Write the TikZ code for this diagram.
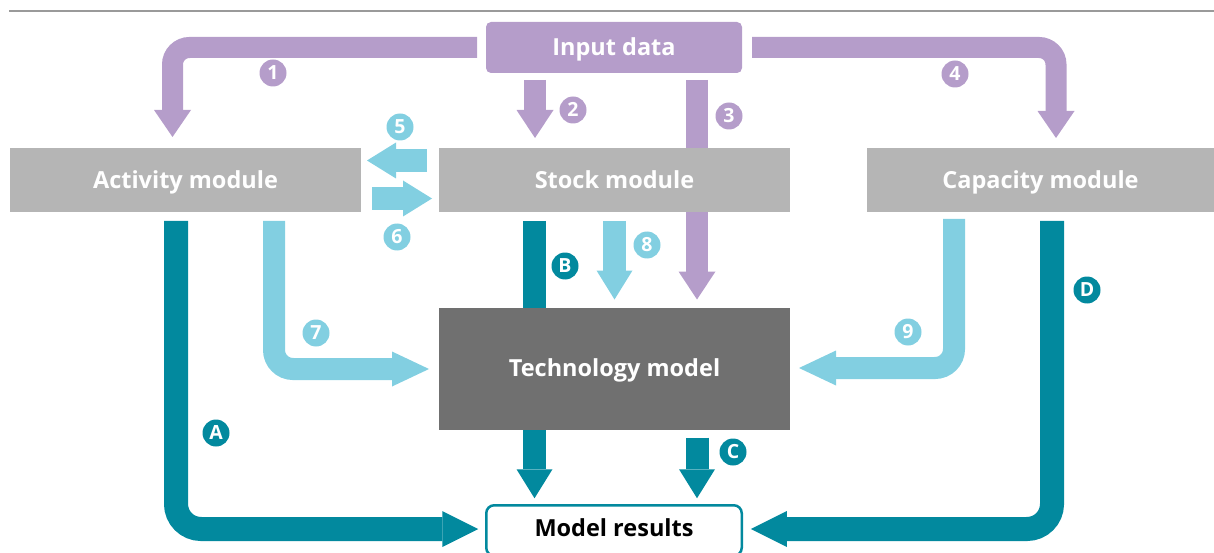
\documentclass[tikz,border=0pt]{standalone}
\usepackage{fontspec}
\setmainfont{Open Sans}
\usetikzlibrary{arrows.meta,calc}
\definecolor{cPur}{HTML}{B59DCA}
\definecolor{cLb}{HTML}{82CFE1}
\definecolor{cTeal}{HTML}{02899E}
\definecolor{cMod}{HTML}{B5B5B5}
\definecolor{cTech}{HTML}{707070}
\definecolor{cRule}{HTML}{9A9A9A}
\pgfdeclarelayer{bg}
\pgfsetlayers{bg,main}
\tikzset{
  lbl/.style={text=white, font=\fontsize{23.5}{27}\selectfont\bfseries, inner sep=0pt, outer sep=0pt, text height=16.8pt, text depth=0pt},
  module/.style={lbl, fill=cMod, minimum width=351pt, minimum height=64pt},
  badge/.style={circle, fill=#1, text=white, minimum size=27pt, inner sep=0pt, text height=13.9pt, text depth=0pt, font=\fontsize{19.5}{20}\selectfont\bfseries},
  purbent/.style={draw=cPur, line width=21pt, rounded corners=17pt, -{Triangle[length=27pt,width=37pt,line width=0pt]}},
  purstraight/.style={draw=cPur, line width=22pt, -{Triangle[length=28pt,width=37pt,line width=0pt]}},
  lbstraight/.style={draw=cLb, line width=23pt, -{Triangle[length=29pt,width=36pt,line width=0pt]}},
  lbbent/.style={draw=cLb, line width=22pt, rounded corners=19pt, -{Triangle[length=37pt,width=35pt,line width=0pt]}},
  tealstraight/.style={draw=cTeal, line width=23pt, -{Triangle[length=29pt,width=36pt,line width=0pt]}},
  tealbent/.style={draw=cTeal, line width=24pt, rounded corners=25pt, -{Triangle[length=36pt,width=36pt,line width=0pt]}}
}
\begin{document}
\begin{tikzpicture}[x=1pt,y=-1pt]
\useasboundingbox (0,0) rectangle (1214,553);
\draw[cRule, line width=1.5pt] (9,11) -- (1214,11);

\node[lbl, fill=cPur, rounded corners=5pt, minimum width=256pt, minimum height=51pt] (inp) at (614,47.5) {Input data};
\node[module] (act) at (185.5,180) {Activity module};
\node[module] (stk) at (614.5,180) {Stock module};
\node[module, minimum width=347pt] (cap) at (1040.5,180) {Capacity module};
\node[lbl, fill=cTech, minimum width=351pt, minimum height=122pt] (tech) at (614.5,368.5) {Technology model};
\node[lbl, draw=cTeal, line width=2.5pt, rounded corners=8pt, fill=white, text=black, text height=12.8pt, minimum width=255.5pt, minimum height=50.5pt] (res) at (614,530.5) {Model results};

\begin{pgfonlayer}{bg}
\draw[purstraight] ($(inp.south)+(83,7)$) -- ($(tech.north)+(82.5,-8)$);
\draw[tealstraight] ($(stk.south)+(-80,9)$) -- ($(res.north)+(-79.5,-7)$);
\end{pgfonlayer}

\draw[purbent] ([xshift=-9pt]inp.west) -| ($(act.north)+(-13,-11)$);
\draw[purstraight] ($(inp.south)+(-79,7)$) -- ($(stk.north)+(-79.5,-10)$);
\draw[purbent] ([xshift=10pt]inp.east) -| ($(cap.north)+(15.5,-10)$);

\draw[lbstraight] ($(stk.west)+(-12,-19.5)$) -- ($(act.east)+(6,-19.5)$);
\draw[lbstraight] ($(act.east)+(11,18.5)$) -- ($(stk.west)+(-7,18.5)$);
\draw[lbbent] ($(act.south)+(88.5,9)$) |- ($(tech.west)+(-10,0.5)$);
\draw[lbstraight] ($(stk.south)+(0,9)$) -- ($(tech.north)+(0,-8)$);
\draw[lbbent] ($(cap.south)+(-86.5,7)$) |- ($(tech.east)+(9,-0.5)$);

\draw[tealbent] ($(act.south)+(-9.5,9)$) |- ($(res.west)+(-8,-1.5)$);
\draw[tealstraight] ($(tech.south)+(82.5,8)$) -- ($(res.north)+(83,-7)$);
\draw[tealbent] ($(cap.south)+(11.5,9)$) |- ($(res.east)+(9,-1.5)$);

\node[badge=cPur] (b1) at (273,73) {1};
\node[badge=cPur] (b2) at (573,110) {2};
\node[badge=cPur] (b3) at (729,116) {3};
\node[badge=cPur] (b4) at (955,74) {4};
\node[badge=cLb] (b5) at (400,127) {5};
\node[badge=cLb] (b6) at (397,237) {6};
\node[badge=cLb] (b7) at (316,333) {7};
\node[badge=cLb] (b8) at (647,245) {8};
\node[badge=cLb] (b9) at (908,332) {9};
\node[badge=cTeal] (bA) at (216,433) {A};
\node[badge=cTeal] (bB) at (565,266) {B};
\node[badge=cTeal] (bC) at (733,452) {C};
\node[badge=cTeal] (bD) at (1087,290) {D};
\end{tikzpicture}
\end{document}
